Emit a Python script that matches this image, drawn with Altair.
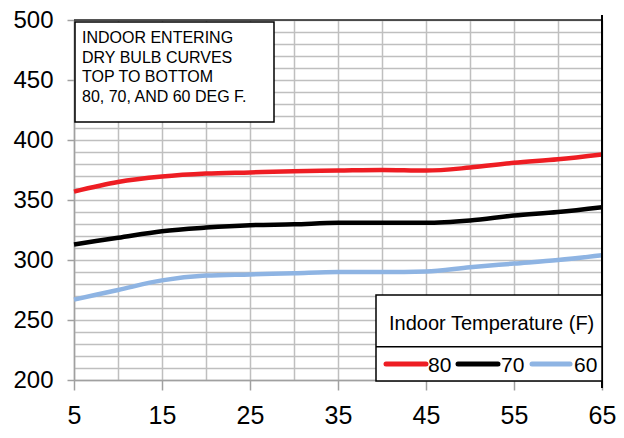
import altair as alt
import pandas as pd

# ---- data ----
outdoor_temp = [5, 10, 15, 20, 25, 30, 35, 40, 45, 50, 55, 60, 65]
series_names = ["80", "70", "60"]
series_colors = ["#EE1D23", "#000000", "#8EB4E3"]
cap_80 = [357, 365, 369.5, 372, 373, 374, 374.5, 375, 374.5, 377, 381, 384, 388]
cap_70 = [313, 318.5, 324, 327, 329, 329.7, 331, 331, 331, 333, 337, 340, 344]
cap_60 = [267, 275, 283, 287, 288, 289, 290, 290, 290.5, 294, 297, 300, 304]
x_grid_values = [5, 10, 15, 20, 25, 30, 35, 40, 45, 50, 55, 60, 65]
y_grid_values = list(range(200, 501, 10))
note_lines = ["INDOOR ENTERING", "DRY BULB CURVES", "TOP TO BOTTOM", "80, 70, AND 60 DEG F."]
legend_title = "Indoor Temperature (F)"

rows = []
for name, vals in zip(series_names, [cap_80, cap_70, cap_60]):
    for xv, v in zip(outdoor_temp, vals):
        rows.append({"outdoor": xv, "capacity": v, "indoor": name})
df = pd.DataFrame(rows)

FONT = "Liberation Sans, Arial, sans-serif"
W, H = 528, 360

x_axis = alt.Axis(
    values=x_grid_values,
    labelExpr="(datum.value - 5) % 10 == 0 ? datum.label : ''",
    tickOpacity={"condition": {"test": "(datum.value - 5) % 10 == 0", "value": 1}, "value": 0},
    title=None, grid=True, gridColor="#BFBFBF", gridWidth=1.5,
    domainColor="#A0A0A0", domainWidth=1.5, tickColor="#A0A0A0", tickWidth=1.5,
    tickSize=10, labelPadding=33, labelFont=FONT, labelFontSize=25,
    labelColor="#000000", labelBaseline="alphabetic", labelFlush=False,
)
y_axis = alt.Axis(
    values=y_grid_values,
    labelExpr="datum.value % 50 == 0 ? datum.label : ''",
    tickOpacity={"condition": {"test": "datum.value % 50 == 0", "value": 1}, "value": 0},
    title=None, grid=True, gridColor="#BFBFBF", gridWidth=1.5,
    domainColor="#A0A0A0", domainWidth=1.5, tickColor="#A0A0A0", tickWidth=1.5,
    tickSize=7, labelPadding=14, labelFont=FONT, labelFontSize=24,
    labelColor="#000000", labelFlush=False,
)

lines = alt.Chart(df).mark_line(interpolate="monotone", strokeWidth=4.5).encode(
    x=alt.X("outdoor:Q", scale=alt.Scale(domain=[5, 65], nice=False, zero=False), axis=x_axis),
    y=alt.Y("capacity:Q", scale=alt.Scale(domain=[200, 500], nice=False, zero=False), axis=y_axis),
    color=alt.Color("indoor:N", scale=alt.Scale(domain=series_names, range=series_colors), legend=None),
    detail="indoor:N",
)

one = pd.DataFrame({"k": [0]})

top_border = alt.Chart(one).mark_rule(color="#222222", strokeWidth=1.5).encode(
    x=alt.value(0), x2=alt.value(W), y=alt.value(0))
right_border = alt.Chart(one).mark_rule(color="#000000", strokeWidth=2).encode(
    x=alt.value(W), y=alt.value(-5), y2=alt.value(H + 8))

# annotation box
note_box = alt.Chart(one).mark_rect(fill="white", stroke="black", strokeWidth=1.5).encode(
    x=alt.value(1), x2=alt.value(200), y=alt.value(2), y2=alt.value(102))
note_text = alt.Chart(pd.DataFrame({"t": ["\n".join(note_lines)]})).mark_text(
    align="left", baseline="alphabetic", font=FONT, fontSize=16, lineBreak="\n",
    lineHeight=19.7, color="black").encode(x=alt.value(8), y=alt.value(23), text="t:N")

# legend box (drawn like the reference's legend)
leg_box = alt.Chart(one).mark_rect(fill="white", stroke="black", strokeWidth=1.5).encode(
    x=alt.value(302), x2=alt.value(W), y=alt.value(275), y2=alt.value(361))
leg_div = alt.Chart(one).mark_rule(color="black", strokeWidth=1.5).encode(
    x=alt.value(302), x2=alt.value(W), y=alt.value(326.7))
leg_title = alt.Chart(one).mark_text(
    align="left", baseline="alphabetic", font=FONT, fontSize=20, color="black").encode(
    x=alt.value(315), y=alt.value(310), text=alt.value(legend_title))

legend_layers = []
seg_x = [(312, 352), (384, 424), (458, 496)]
lab_x = [354, 427, 500]
for i, name in enumerate(series_names):
    legend_layers.append(alt.Chart(one).mark_rule(
        color=series_colors[i], strokeWidth=5, strokeCap="round").encode(
        x=alt.value(seg_x[i][0]), x2=alt.value(seg_x[i][1]), y=alt.value(344)))
    legend_layers.append(alt.Chart(one).mark_text(
        align="left", baseline="alphabetic", font=FONT, fontSize=21, color="black").encode(
        x=alt.value(lab_x[i]), y=alt.value(351.7), text=alt.value(name)))

chart = alt.layer(
    lines, top_border, right_border, note_box, note_text, leg_box, leg_div, leg_title,
    *legend_layers
).properties(
    width=W, height=H,
    autosize=alt.AutoSizeParams(type="none"),
    padding={"left": 66, "top": 12, "right": 14, "bottom": 50},
).configure_view(stroke=None).configure(background="white")

chart.save("out.html", embed_options={"renderer": "svg", "actions": False})
